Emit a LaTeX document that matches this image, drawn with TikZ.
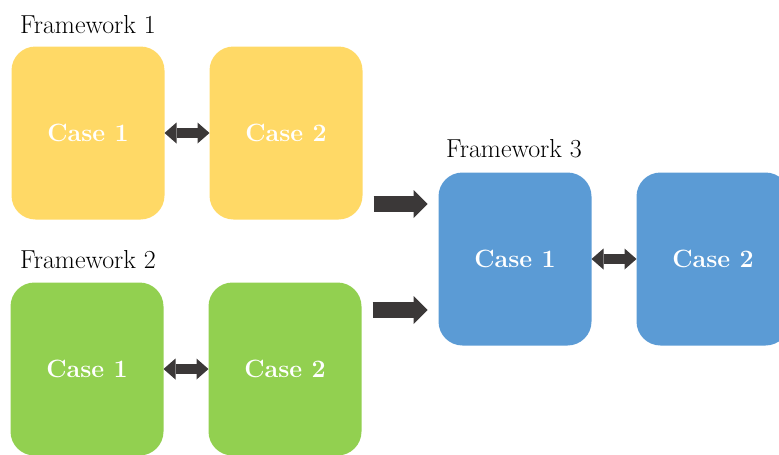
\documentclass[tikz,border=0pt]{standalone}
\usepackage{fontspec}
\usetikzlibrary{positioning,arrows.meta}
\definecolor{caseyellow}{HTML}{FFD966}
\definecolor{casegreen}{HTML}{92D050}
\definecolor{caseblue}{HTML}{5B9BD5}
\definecolor{arrowgray}{HTML}{3B3838}
\begin{document}
\begin{tikzpicture}[x=1pt,y=-1pt,
  case/.style={rounded corners=24pt, minimum width=153pt, minimum height=173pt, inner sep=0pt, outer sep=0pt, text=white, font=\fontsize{25}{30}\selectfont\bfseries},
  fwlabel/.style={anchor=base west, inner sep=0pt, font=\fontsize{26}{30}\selectfont},
  swap/.style={draw=arrowgray, line width=10pt, {Triangle[length=12pt,width=21pt,line width=0pt]}-{Triangle[length=12pt,width=21pt,line width=0pt]}},
  feed/.style={draw=arrowgray, line width=16pt, -{Triangle[length=14pt,width=28pt,line width=0pt]}, shorten <=11pt, shorten >=11pt}]
\clip (0,0) rectangle (779,455);

% Framework 1
\node[fwlabel] (fw1) at (20,33) {Framework 1};
\node[case, fill=caseyellow] (y1) at (88,133) {Case 1};
\node[case, fill=caseyellow, right=45pt of y1] (y2) {Case 2};
\draw[swap] (y1.east) -- (y2.west);

% Framework 2
\node[fwlabel] (fw2) at (20,268) {Framework 2};
\node[case, fill=casegreen] (g1) at (87,369) {Case 1};
\node[case, fill=casegreen, right=45pt of g1] (g2) {Case 2};
\draw[swap] (g1.east) -- (g2.west);

% Framework 3
\node[fwlabel] (fw3) at (446,157) {Framework 3};
\node[case, fill=caseblue] (b1) at (515,259) {Case 1};
\node[case, fill=caseblue, right=45pt of b1] (b2) {Case 2};
\draw[swap] (b1.east) -- (b2.west);

% Inputs into framework 3
\coordinate (in1) at (400,204);
\coordinate (in2) at (400,310);
\draw[feed] (y2.east |- in1) -- (b1.west |- in1);
\draw[feed] (g2.east |- in2) -- (b1.west |- in2);

\end{tikzpicture}
\end{document}
